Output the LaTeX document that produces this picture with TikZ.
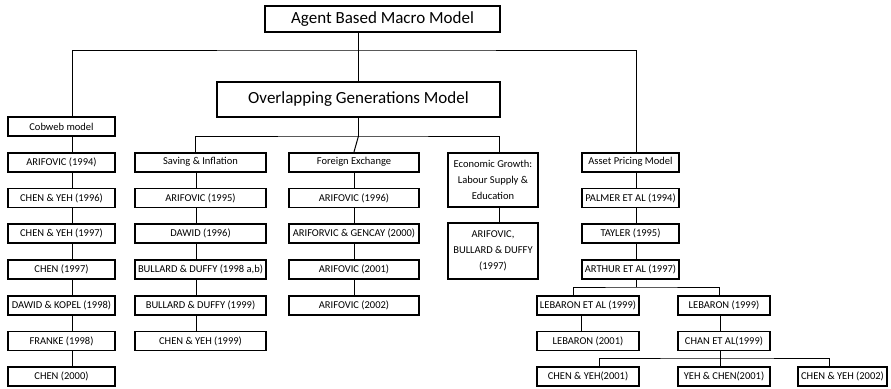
\documentclass[tikz,border=0pt]{standalone}
\usepackage{fontspec}
\setmainfont{Carlito}
\usepackage{tikz}

\begin{document}
\begin{tikzpicture}[x=1pt,y=-1pt,
    box/.style={draw,line width=1.8pt,inner sep=1pt,minimum height=19pt,font=\fontsize{10.5}{16}\selectfont},
    title/.style={draw,line width=1.6pt,inner sep=1pt,font=\fontsize{17}{20}\selectfont},
    link/.style={line width=1pt}]
    \useasboundingbox (0,0) rectangle (891,388);

    %Agent Based / OLG
    \node [title,minimum width=235pt,minimum height=26pt] (abm) at (382.5,19) {Agent Based Macro Model};
    \node [title,minimum width=283pt,minimum height=35pt] (ogm) at (358.5,99.5) {Overlapping Generations Model};
    \coordinate (bus) at (358.5,50);
    \coordinate (obus) at (358.5,136);

    %Cobweb model
    \node [box,minimum width=107pt] (cobweb) at (61.5,126.5) {Cobweb model};
    \node [box,minimum width=107pt] (arif94) at (61.5,162.25) {ARIFOVIC (1994)};
    \node [box,minimum width=107pt] (cy96) at (61.5,198) {CHEN \& YEH (1996)};
    \node [box,minimum width=107pt] (cy97) at (61.5,233.75) {CHEN \& YEH (1997)};
    \node [box,minimum width=107pt] (chen97) at (61.5,269.5) {CHEN (1997)};
    \node [box,minimum width=107pt] (dk98) at (61.5,305.25) {DAWID \& KOPEL (1998)};
    \node [box,minimum width=107pt] (franke98) at (61.5,341) {FRANKE (1998)};
    \node [box,minimum width=107pt] (chen00) at (61.5,376.75) {CHEN (2000)};

    %Saving & Inflation
    \node [box,minimum width=131pt] (saving) at (200.5,162.25) {Saving \& Inflation};
    \node [box,minimum width=131pt] (arif95) at (200.5,198) {ARIFOVIC (1995)};
    \node [box,minimum width=131pt] (dawid96) at (200.5,233.75) {DAWID (1996)};
    \node [box,minimum width=131pt] (bd98) at (200.5,269.5) {BULLARD \& DUFFY (1998 a,b)};
    \node [box,minimum width=131pt] (bd99) at (200.5,305.25) {BULLARD \& DUFFY (1999)};
    \node [box,minimum width=131pt] (cy99) at (200.5,341) {CHEN \& YEH (1999)};

    %Foreign Exchange
    \node [box,minimum width=130pt] (forex) at (354,162.25) {Foreign Exchange};
    \node [box,minimum width=130pt] (arif96) at (354,198) {ARIFOVIC (1996)};
    \node [box,minimum width=130pt] (ag00) at (354,233.75) {ARIFORVIC \& GENCAY (2000)};
    \node [box,minimum width=130pt] (arif01) at (354,269.5) {ARIFOVIC (2001)};
    \node [box,minimum width=130pt] (arif02) at (354,305.25) {ARIFOVIC (2002)};

    %Economic Growth
    \node [box,align=center,minimum width=90pt,minimum height=54pt] (growth) at (493,180) {Economic Growth:\\Labour Supply \&\\Education};
    \node [box,align=center,minimum width=90pt,minimum height=56pt] (abd97) at (493,251) {ARIFOVIC,\\BULLARD \& DUFFY\\(1997)};

    %Asset Pricing Model
    \node [box,minimum width=97pt] (asset) at (630.5,162.25) {Asset Pricing Model};
    \node [box,minimum width=97pt] (palmer94) at (630.5,198) {PALMER ET AL (1994)};
    \node [box,minimum width=97pt] (tayler95) at (630.5,233.75) {TAYLER (1995)};
    \node [box,minimum width=97pt] (arthur97) at (630.5,269.5) {ARTHUR ET AL (1997)};
    \coordinate (abus) at (636.5,287);
    \node [box,minimum width=102pt] (lebal99) at (588,305.25) {LEBARON ET AL (1999)};
    \node [box,minimum width=92pt] (leb99) at (724,305.25) {LEBARON (1999)};
    \node [box,minimum width=102pt] (leb01) at (588,341) {LEBARON (2001)};
    \node [box,minimum width=92pt] (chan99) at (724,341) {CHAN ET AL(1999)};
    \coordinate (cbus) at (720,358);
    \node [box,minimum width=102pt] (cy01) at (588,376.75) {CHEN \& YEH(2001)};
    \node [box,minimum width=92pt] (yc01) at (724,376.75) {YEH \& CHEN(2001)};
    \node [box,minimum width=89pt] (cy02) at (842.5,376.75) {CHEN \& YEH (2002)};

    %top links
    \draw [link] (abm.south -| ogm.north) -- (ogm.north);
    \draw [link] ([xshift=10.5]cobweb.north) |- (bus) -| ([xshift=6]asset.north);
    \draw [link] (ogm.south) -- (obus);
    \draw [link] ([xshift=-5]saving.north) |- (obus) -| ([xshift=6]growth.north);
    \draw [link] (obus) -- (forex.north);

    %column links
    \draw [link] ([xshift=10.5]cobweb.south) -- ([xshift=10.5]arif94.north);
    \draw [link] ([xshift=10.5]arif94.south) -- ([xshift=10.5]cy96.north);
    \draw [link] ([xshift=10.5]cy96.south) -- ([xshift=10.5]cy97.north);
    \draw [link] ([xshift=10.5]cy97.south) -- ([xshift=10.5]chen97.north);
    \draw [link] ([xshift=10.5]chen97.south) -- ([xshift=10.5]dk98.north);
    \draw [link] ([xshift=10.5]dk98.south) -- ([xshift=10.5]franke98.north);
    \draw [link] ([xshift=10.5]franke98.south) -- ([xshift=10.5]chen00.north);

    \draw [link] ([xshift=-4]saving.south) -- ([xshift=-4]arif95.north);
    \draw [link] ([xshift=-4]arif95.south) -- ([xshift=-4]dawid96.north);
    \draw [link] ([xshift=-4]dawid96.south) -- ([xshift=-4]bd98.north);
    \draw [link] ([xshift=-4]bd98.south) -- ([xshift=-4]bd99.north);
    \draw [link] ([xshift=-4]bd99.south) -- ([xshift=-4]cy99.north);

    \draw [link] (forex.south) -- (arif96.north);
    \draw [link] (arif96.south) -- (ag00.north);
    \draw [link] (ag00.south) -- (arif01.north);
    \draw [link] (arif01.south) -- (arif02.north);

    \draw [link] ([xshift=6]growth.south) -- ([xshift=6]abd97.north);

    \draw [link] ([xshift=6]asset.south) -- ([xshift=6]palmer94.north);
    \draw [link] ([xshift=6]palmer94.south) -- ([xshift=6]tayler95.north);
    \draw [link] ([xshift=6]tayler95.south) -- ([xshift=6]arthur97.north);
    \draw [link] ([xshift=6]arthur97.south) -- (abus);
    \draw [link] ([xshift=-15]lebal99.north) |- (abus) -| ([xshift=-5]leb99.north);
    \draw [link] ([xshift=-7]lebal99.south) -- ([xshift=-7]leb01.north);
    \draw [link] ([xshift=-4]leb99.south) -- ([xshift=-4]chan99.north);
    \draw [link] ([xshift=-4]chan99.south) -- (cbus);
    \draw [link] ([xshift=11]cy01.north) |- (cbus) -| ([xshift=-13.5]cy02.north);
    \draw [link] (cbus) -- ([xshift=-4]yc01.north);
\end{tikzpicture}
\end{document}
